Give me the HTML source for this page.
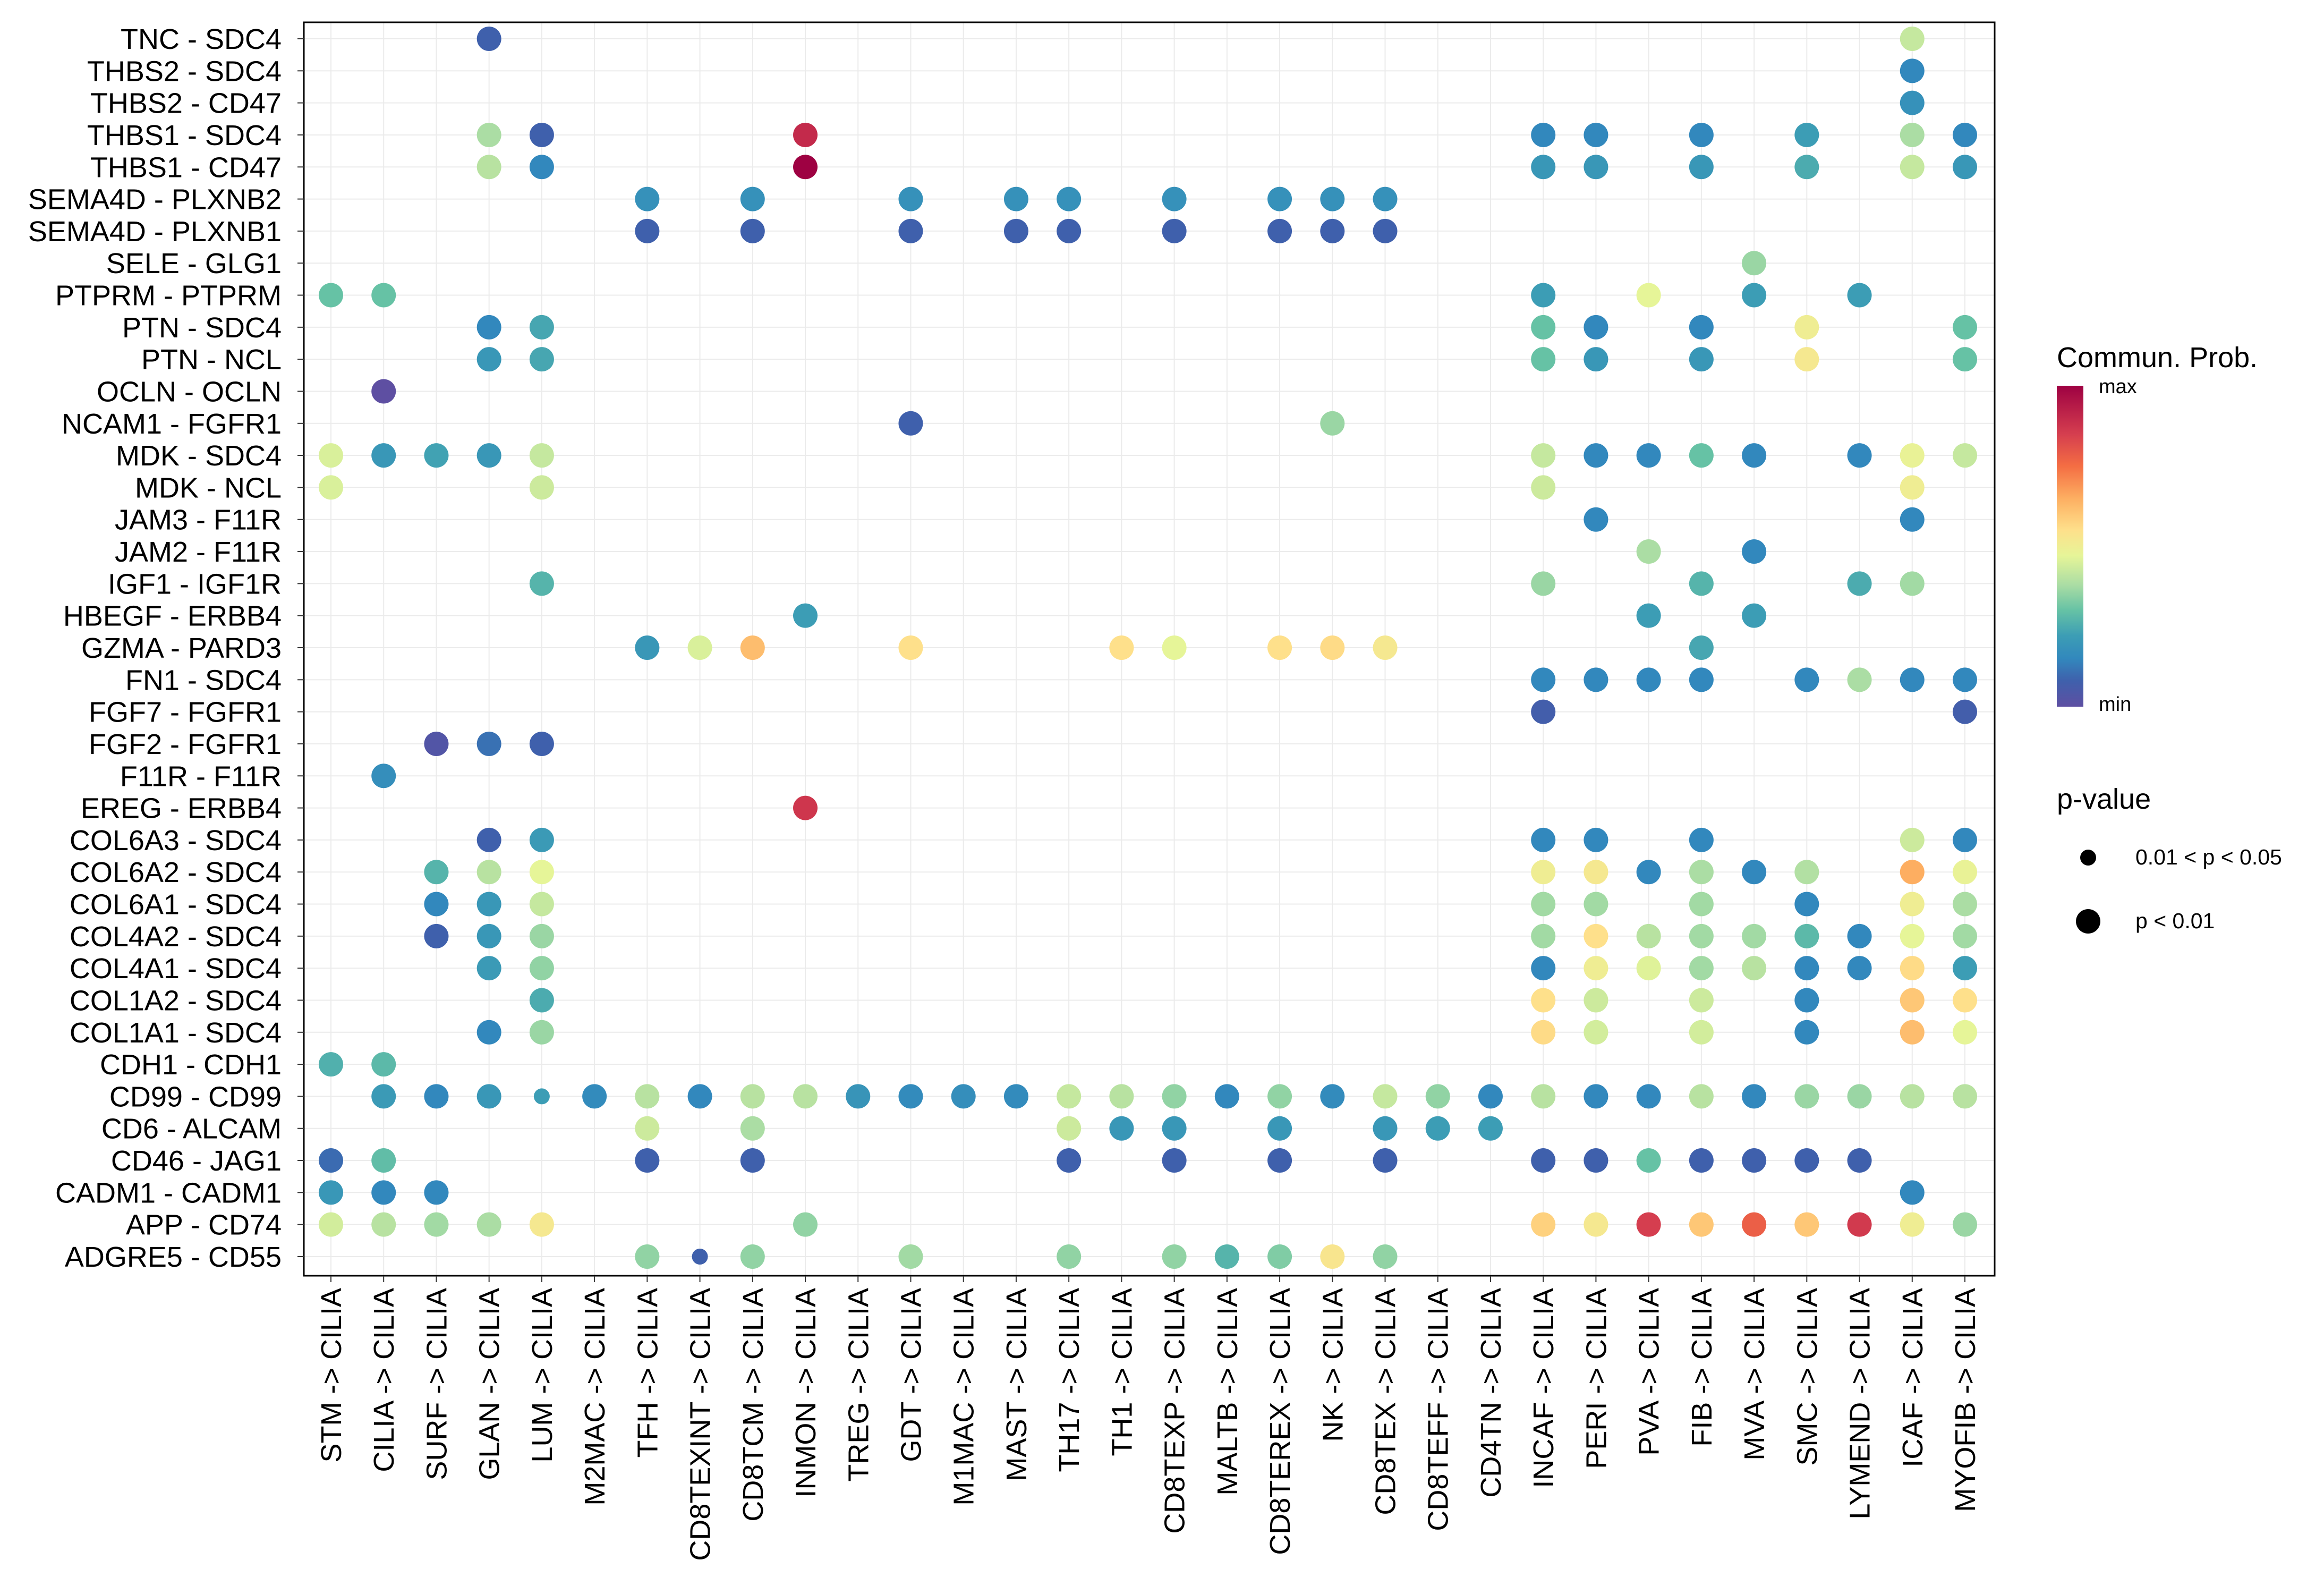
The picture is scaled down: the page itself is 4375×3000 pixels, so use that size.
<!DOCTYPE html>
<html><head><meta charset="utf-8"><style>
html,body{margin:0;padding:0;background:#fff}
svg{display:block;font-family:"Liberation Sans",sans-serif}
</style></head><body>
<svg id="chart" width="4375" height="3000" viewBox="0 0 4375 3000" xmlns="http://www.w3.org/2000/svg">
<defs>
<linearGradient id="cbar" x1="0" y1="1" x2="0" y2="0">
<stop offset="0" stop-color="#5E4FA2"/><stop offset="0.08" stop-color="#3F60AC"/><stop offset="0.15" stop-color="#3288BD"/><stop offset="0.22" stop-color="#3C9DB5"/><stop offset="0.3" stop-color="#66C2A5"/><stop offset="0.38" stop-color="#ABDDA4"/><stop offset="0.47" stop-color="#E6F598"/><stop offset="0.55" stop-color="#FEE08B"/><stop offset="0.65" stop-color="#FDAE61"/><stop offset="0.75" stop-color="#F46D43"/><stop offset="0.85" stop-color="#D53E4F"/><stop offset="1" stop-color="#9E0142"/>
</linearGradient>
</defs>
<g id="grid"></g>
<g id="marks"></g>
<rect x="572" y="42" width="3183" height="2359" fill="none" stroke="#000" stroke-width="3"/>
<g id="ylabels"></g>
<g id="xlabels"></g>
<g>
<text x="3872" y="691" font-size="54">Commun. Prob.</text>
<rect x="3872" y="726" width="50" height="604" fill="url(#cbar)"/>
<text x="3951" y="740" font-size="38">max</text>
<text x="3951" y="1338" font-size="38">min</text>
</g>
<g>
<text x="3872" y="1522" font-size="54">p-value</text>
<circle cx="3931" cy="1614" r="15" fill="#000"/>
<text x="4020" y="1627" font-size="41">0.01 &lt; p &lt; 0.05</text>
<circle cx="3931" cy="1734" r="23" fill="#000"/>
<text x="4020" y="1747" font-size="41">p &lt; 0.01</text>
</g>
</svg>
<script>
const columns = ["STM","CILIA","SURF","GLAN","LUM","M2MAC","TFH","CD8TEXINT","CD8TCM","INMON","TREG","GDT","M1MAC","MAST","TH17","TH1","CD8TEXP","MALTB","CD8TEREX","NK","CD8TEX","CD8TEFF","CD4TN","INCAF","PERI","PVA","FIB","MVA","SMC","LYMEND","ICAF","MYOFIB"];
const rows = ["TNC - SDC4","THBS2 - SDC4","THBS2 - CD47","THBS1 - SDC4","THBS1 - CD47","SEMA4D - PLXNB2","SEMA4D - PLXNB1","SELE - GLG1","PTPRM - PTPRM","PTN - SDC4","PTN - NCL","OCLN - OCLN","NCAM1 - FGFR1","MDK - SDC4","MDK - NCL","JAM3 - F11R","JAM2 - F11R","IGF1 - IGF1R","HBEGF - ERBB4","GZMA - PARD3","FN1 - SDC4","FGF7 - FGFR1","FGF2 - FGFR1","F11R - F11R","EREG - ERBB4","COL6A3 - SDC4","COL6A2 - SDC4","COL6A1 - SDC4","COL4A2 - SDC4","COL4A1 - SDC4","COL1A2 - SDC4","COL1A1 - SDC4","CDH1 - CDH1","CD99 - CD99","CD6 - ALCAM","CD46 - JAG1","CADM1 - CADM1","APP - CD74","ADGRE5 - CD55"];
// each entry: [column index, probability (0=min,1=max)]
const rowValues = [
 [[3,.08],[30,.42]],
 [[30,.15]],
 [[30,.18]],
 [[3,.38],[4,.08],[9,.9],[23,.15],[24,.15],[26,.15],[28,.22],[30,.38],[31,.15]],
 [[3,.4],[4,.15],[9,1],[23,.2],[24,.2],[26,.2],[28,.25],[30,.42],[31,.2]],
 [[6,.18],[8,.18],[11,.18],[13,.18],[14,.18],[16,.18],[18,.18],[19,.18],[20,.18]],
 [[6,.08],[8,.08],[11,.08],[13,.08],[14,.08],[16,.08],[18,.08],[19,.08],[20,.08]],
 [[27,.36]],
 [[0,.3],[1,.3],[23,.22],[25,.47],[27,.22],[29,.22]],
 [[3,.15],[4,.24],[23,.3],[24,.15],[26,.15],[28,.5],[31,.3]],
 [[3,.2],[4,.24],[23,.3],[24,.2],[26,.2],[28,.52],[31,.3]],
 [[1,.0]],
 [[11,.08],[19,.36]],
 [[0,.45],[1,.2],[2,.23],[3,.2],[4,.42],[23,.42],[24,.15],[25,.15],[26,.3],[27,.15],[29,.15],[30,.48],[31,.42]],
 [[0,.45],[4,.43],[23,.43],[30,.5]],
 [[24,.15],[30,.15]],
 [[25,.38],[27,.15]],
 [[4,.27],[23,.36],[26,.27],[29,.25],[30,.37]],
 [[9,.22],[25,.22],[27,.22]],
 [[6,.2],[7,.45],[8,.62],[11,.55],[15,.55],[16,.47],[18,.55],[19,.56],[20,.52],[26,.24]],
 [[23,.15],[24,.15],[25,.15],[26,.15],[28,.15],[29,.38],[30,.15],[31,.15]],
 [[23,.07],[31,.07]],
 [[2,.03],[3,.11],[4,.08]],
 [[1,.17]],
 [[9,.87]],
 [[3,.08],[4,.21],[23,.15],[24,.15],[26,.15],[30,.43],[31,.15]],
 [[2,.27],[3,.4],[4,.47],[23,.5],[24,.52],[25,.15],[26,.38],[27,.15],[28,.39],[30,.65],[31,.48]],
 [[2,.15],[3,.2],[4,.42],[23,.37],[24,.37],[26,.37],[28,.15],[30,.5],[31,.38]],
 [[2,.08],[3,.2],[4,.36],[23,.37],[24,.55],[25,.4],[26,.37],[27,.37],[28,.28],[29,.15],[30,.47],[31,.37]],
 [[3,.21],[4,.35],[23,.15],[24,.5],[25,.46],[26,.37],[27,.4],[28,.15],[29,.15],[30,.56],[31,.22]],
 [[4,.25],[23,.55],[24,.43],[26,.43],[28,.15],[30,.6],[31,.55]],
 [[3,.15],[4,.36],[23,.56],[24,.44],[26,.44],[28,.15],[30,.62],[31,.47]],
 [[0,.26],[1,.28]],
 [[1,.21],[2,.15],[3,.2],[4,.22],[5,.16],[6,.4],[7,.15],[8,.4],[9,.4],[10,.19],[11,.16],[12,.17],[13,.16],[14,.42],[15,.4],[16,.35],[17,.15],[18,.35],[19,.16],[20,.42],[21,.35],[22,.15],[23,.4],[24,.15],[25,.15],[26,.4],[27,.15],[28,.36],[29,.36],[30,.4],[31,.4]],
 [[6,.43],[8,.38],[14,.43],[15,.2],[16,.2],[18,.2],[20,.2],[21,.22],[22,.22]],
 [[0,.1],[1,.29],[6,.08],[8,.08],[14,.08],[16,.08],[18,.08],[20,.08],[23,.08],[24,.08],[25,.3],[26,.08],[27,.08],[28,.08],[29,.08]],
 [[0,.2],[1,.15],[2,.15],[30,.15]],
 [[0,.44],[1,.4],[2,.37],[3,.38],[4,.52],[9,.35],[23,.58],[24,.52],[25,.85],[26,.6],[27,.78],[28,.6],[29,.86],[30,.5],[31,.36]],
 [[6,.35],[7,.08],[8,.35],[11,.37],[14,.35],[16,.35],[17,.27],[18,.33],[19,.53],[20,.35]]
];
// small points (0.01 < p < 0.05): [row, column]
const smallPoints = [[33,4],[38,7]];

const stops=[[0,"#5E4FA2"],[.08,"#3F60AC"],[.15,"#3288BD"],[.22,"#3C9DB5"],[.3,"#66C2A5"],[.38,"#ABDDA4"],[.47,"#E6F598"],[.55,"#FEE08B"],[.65,"#FDAE61"],[.75,"#F46D43"],[.85,"#D53E4F"],[1,"#9E0142"]];
function hex(h){return [1,3,5].map(i=>parseInt(h.substr(i,2),16));}
function color(v){for(let i=1;i<stops.length;i++){if(v<=stops[i][0]){const a=stops[i-1],b=stops[i];const t=(v-a[0])/(b[0]-a[0]);const ca=hex(a[1]),cb=hex(b[1]);return "rgb("+ca.map((c,k)=>Math.round(c+(cb[k]-c)*t)).join(",")+")";}}return stops[stops.length-1][1];}
const X0=623, XS=(3699-623)/(columns.length-1), Y0=73, YS=(2365-73)/(rows.length-1);
const xPos=i=>X0+i*XS, yPos=j=>Y0+j*YS;
const NS="http://www.w3.org/2000/svg";
const grid=document.getElementById("grid"), marks=document.getElementById("marks"), yl=document.getElementById("ylabels"), xl=document.getElementById("xlabels");
columns.forEach((c,i)=>{
 const l=document.createElementNS(NS,"line");
 l.setAttribute("x1",xPos(i));l.setAttribute("x2",xPos(i));l.setAttribute("y1",42);l.setAttribute("y2",2401);l.setAttribute("stroke","#EBEBEB");l.setAttribute("stroke-width","2");
 
 
 grid.appendChild(l);
 const tk=document.createElementNS(NS,"line");
 tk.setAttribute("x1",xPos(i));tk.setAttribute("x2",xPos(i));tk.setAttribute("y1",2401);tk.setAttribute("y2",2413);tk.setAttribute("stroke","#333");tk.setAttribute("stroke-width","2");
 
 
 xl.appendChild(tk);
 const t=document.createElementNS(NS,"text");
 t.setAttribute("transform","translate("+(xPos(i)+19)+",2424) rotate(-90)");
 t.setAttribute("text-anchor","end");t.setAttribute("font-size","54");
 t.textContent=c+" -> CILIA";
 
 
 xl.appendChild(t);
});
rows.forEach((r,j)=>{
 const l=document.createElementNS(NS,"line");
 l.setAttribute("x1",572);l.setAttribute("x2",3755);l.setAttribute("y1",yPos(j));l.setAttribute("y2",yPos(j));l.setAttribute("stroke","#EBEBEB");l.setAttribute("stroke-width","2");
 
 
 grid.appendChild(l);
 const tk=document.createElementNS(NS,"line");
 tk.setAttribute("x1",560);tk.setAttribute("x2",572);tk.setAttribute("y1",yPos(j));tk.setAttribute("y2",yPos(j));tk.setAttribute("stroke","#333");tk.setAttribute("stroke-width","2");
 
 
 yl.appendChild(tk);
 const t=document.createElementNS(NS,"text");
 t.setAttribute("x",530);t.setAttribute("y",yPos(j)+19);t.setAttribute("text-anchor","end");t.setAttribute("font-size","54");
 t.textContent=r;
 
 
 yl.appendChild(t);
});
rowValues.forEach((pts,j)=>{
 pts.forEach(([i,v])=>{
  const small=smallPoints.some(p=>p[0]===j&&p[1]===i);
  const c=document.createElementNS(NS,"circle");
  c.setAttribute("cx",xPos(i));c.setAttribute("cy",yPos(j));c.setAttribute("r",small?15:23);c.setAttribute("fill",color(v));
  
  
  marks.appendChild(c);
 });
});
</script>
</body></html>
